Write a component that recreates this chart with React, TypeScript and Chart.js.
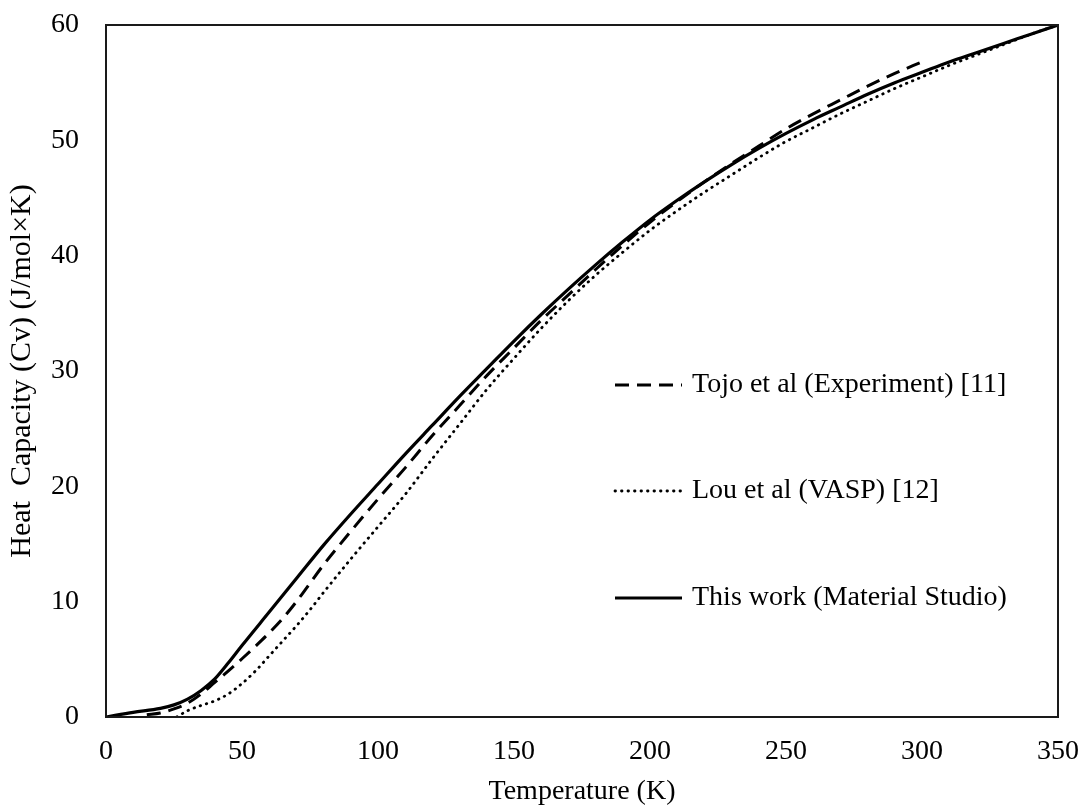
import React, { useEffect, useRef } from "react";
import { Chart, registerables } from "chart.js";

Chart.register(...registerables);

// Temperature (K) and heat capacity (J/mol×K) per series
const tojoT = [15, 20, 25, 30, 35, 40, 45, 50, 55, 60, 65, 70, 80, 90, 100, 110, 120, 130, 140, 150, 160, 170, 180, 190, 200, 210, 220, 230, 240, 250, 260, 270, 280, 290, 300];
const tojoCv = [0.2, 0.35, 0.7, 1.2, 2.0, 3.0, 4.0, 5.05, 6.15, 7.3, 8.55, 10.0, 13.2, 16.1, 18.9, 21.6, 24.4, 27.0, 29.6, 32.0, 34.4, 36.6, 38.8, 40.9, 42.9, 44.7, 46.4, 48.0, 49.5, 51.0, 52.3, 53.5, 54.7, 55.8, 56.8];

const louT = [26, 30, 35, 40, 45, 50, 55, 60, 65, 70, 75, 80, 90, 100, 110, 120, 130, 140, 150, 160, 170, 180, 190, 200, 210, 220, 230, 240, 250, 260, 270, 280, 290, 300, 310, 320, 330, 340, 350];
const louCv = [0, 0.55, 1.0, 1.4, 2.0, 2.9, 4.0, 5.3, 6.6, 7.9, 9.3, 10.8, 13.7, 16.5, 19.3, 22.4, 25.4, 28.4, 31.1, 33.7, 36.1, 38.3, 40.3, 42.2, 43.9, 45.5, 47.0, 48.5, 49.9, 51.1, 52.3, 53.4, 54.5, 55.5, 56.5, 57.4, 58.3, 59.2, 60.0];

const workT = [0, 10, 20, 25, 30, 35, 40, 45, 50, 60, 70, 80, 90, 100, 110, 120, 130, 140, 150, 160, 170, 180, 190, 200, 210, 220, 230, 240, 250, 260, 270, 280, 290, 300, 310, 320, 330, 340, 350];
const workCv = [0, 0.4, 0.75, 1.05, 1.55, 2.3, 3.3, 4.7, 6.2, 9.1, 12.0, 14.9, 17.6, 20.2, 22.8, 25.3, 27.8, 30.2, 32.6, 34.9, 37.1, 39.2, 41.2, 43.1, 44.8, 46.4, 47.9, 49.3, 50.6, 51.8, 52.9, 54.0, 55.0, 55.9, 56.8, 57.6, 58.4, 59.2, 60.0];

const seriesNames = ["Tojo et al (Experiment) [11]", "Lou et al (VASP) [12]", "This work (Material Studio)"];
const xTicks = [0, 50, 100, 150, 200, 250, 300, 350];
const yTicks = [0, 10, 20, 30, 40, 50, 60];
const xTitle = "Temperature (K)";
const yTitle = "Heat  Capacity (Cv) (J/mol\u00D7K)";

const FONT = "'Liberation Serif', 'Times New Roman', serif";

const toPoints = (xs: number[], ys: number[]) => xs.map((x, i) => ({ x, y: ys[i] }));

const boxAndLegend = {
  id: "boxAndLegend",
  afterDatasetsDraw(chart: any) {
    const { ctx, chartArea } = chart;
    ctx.save();
    ctx.strokeStyle = "#1a1a1a";
    ctx.lineWidth = 2;
    ctx.setLineDash([]);
    ctx.strokeRect(chartArea.left, chartArea.top, chartArea.right - chartArea.left, chartArea.bottom - chartArea.top);

    // legend inside plot
    const lx0 = chartArea.left + 509;
    const lx1 = chartArea.left + 576;
    const tx = chartArea.left + 586;
    const rows = [chartArea.top + 360, chartArea.top + 466, chartArea.top + 573];
    chart.data.datasets.forEach((ds: any, i: number) => {
      const y = rows[i];
      ctx.beginPath();
      ctx.strokeStyle = ds.borderColor;
      ctx.lineWidth = ds.borderWidth;
      ctx.lineCap = ds.borderCapStyle || "butt";
      ctx.setLineDash(ds.borderDash || []);
      ctx.moveTo(lx0, y);
      ctx.lineTo(lx1, y);
      ctx.stroke();
      ctx.setLineDash([]);
      ctx.fillStyle = "#000";
      ctx.font = `28px ${FONT}`;
      ctx.textBaseline = "middle";
      ctx.textAlign = "left";
      ctx.fillText(ds.label, tx, y);
    });
    ctx.restore();
  },
};

export default function App() {
  const ref = useRef<HTMLCanvasElement | null>(null);

  useEffect(() => {
    if (!ref.current) return;
    const chart = new Chart(ref.current, {
      type: "line",
      data: {
        datasets: [
          {
            label: seriesNames[0],
            data: toPoints(tojoT, tojoCv),
            borderColor: "#000",
            borderWidth: 3,
            borderDash: [14, 8],
            borderCapStyle: "butt",
            pointRadius: 0,
            cubicInterpolationMode: "monotone",
          },
          {
            label: seriesNames[1],
            data: toPoints(louT, louCv),
            borderColor: "#000",
            borderWidth: 2.8,
            borderDash: [0.5, 6],
            borderCapStyle: "round",
            pointRadius: 0,
            cubicInterpolationMode: "monotone",
          },
          {
            label: seriesNames[2],
            data: toPoints(workT, workCv),
            borderColor: "#000",
            borderWidth: 3.2,
            borderCapStyle: "butt",
            pointRadius: 0,
            cubicInterpolationMode: "monotone",
          },
        ],
      },
      options: {
        animation: false,
        responsive: false,
        maintainAspectRatio: false,
        layout: { padding: { top: 25, right: 24, left: 0, bottom: 0 } },
        plugins: {
          legend: { display: false },
          tooltip: { enabled: false },
        },
        scales: {
          x: {
            type: "linear",
            min: 0,
            max: 350,
            afterBuildTicks: (scale: any) => {
              scale.ticks = xTicks.map((v) => ({ value: v }));
            },
            afterFit: (scale: any) => {
              scale.height = 93;
              scale.paddingLeft = 0;
              scale.paddingRight = 0;
            },
            grid: { display: false, drawTicks: false, tickLength: 0 },
            border: { display: true, color: "#333", width: 2 },
            ticks: {
              color: "#000",
              font: { family: FONT, size: 28 },
              padding: 18,
              maxRotation: 0,
            },
            title: {
              display: true,
              text: xTitle,
              color: "#000",
              font: { family: FONT, size: 28 },
              padding: { top: 0, bottom: 2 },
            },
          },
          y: {
            type: "linear",
            min: 0,
            max: 60,
            afterBuildTicks: (scale: any) => {
              scale.ticks = yTicks.map((v) => ({ value: v }));
            },
            afterFit: (scale: any) => {
              scale.width = 106;
              scale.paddingTop = 0;
              scale.paddingBottom = 0;
            },
            grid: { display: false, drawTicks: false, tickLength: 0 },
            border: { display: true, color: "#333", width: 2 },
            ticks: {
              color: "#000",
              font: { family: FONT, size: 28 },
              padding: 27,
            },
            title: {
              display: true,
              text: yTitle,
              color: "#000",
              font: { family: FONT, size: 30 },
              padding: { top: 4, bottom: 0 },
            },
          },
        },
      } as any,
      plugins: [boxAndLegend],
    });
    return () => chart.destroy();
  }, []);

  return (
    <div style={{ position: "fixed", left: 0, top: 0, width: 1082, height: 810, background: "#fff" }}>
      <canvas ref={ref} width={1082} height={810} style={{ width: 1082, height: 810, display: "block" }} />
    </div>
  );
}
